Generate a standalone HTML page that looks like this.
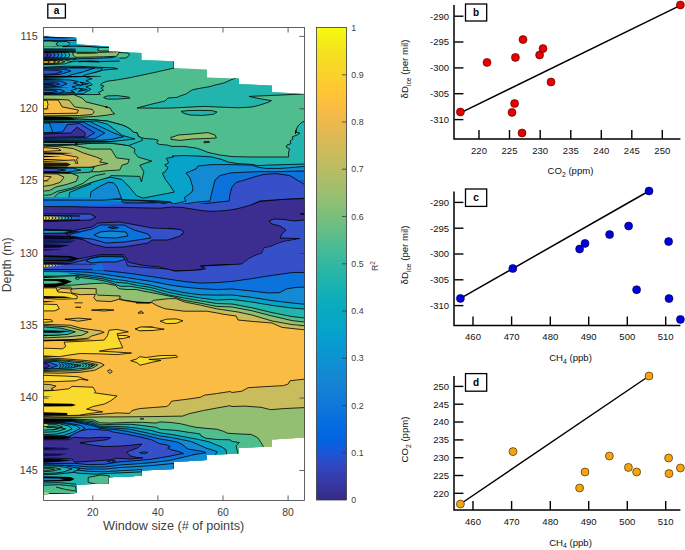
<!DOCTYPE html><html><head><meta charset="utf-8"><style>html,body{margin:0;padding:0;background:#fff}svg{display:block}text{font-family:"Liberation Sans",sans-serif}</style></head><body>
<svg width="685" height="550" viewBox="0 0 685 550">
<rect width="685" height="550" fill="#fff"/>
<defs><clipPath id="cp"><path d="M43.6 36.5 L76.5 37.8 L76.5 44.2 L108.8 46.4 L108.8 51.2 L141.5 53.0 L141.5 60.0 L174.0 61.2 L174.0 68.0 L207.0 69.4 L207.0 77.4 L239.0 78.6 L239.0 84.0 L272.0 85.6 L272.0 92.0 L304.4 94.0 L304.4 437.6 L272.0 439.4 L272.0 446.4 L239.0 448.0 L239.0 453.6 L207.0 455.0 L207.0 460.0 L174.0 462.0 L174.0 469.0 L141.6 470.5 L141.6 475.7 L109.0 477.3 L109.0 483.4 L76.6 484.5 L76.6 493.0 L43.6 494.2 Z"/></clipPath>
<linearGradient id="par" x1="0" y1="1" x2="0" y2="0"><stop offset="0.0000" stop-color="rgb(53,42,135)"/><stop offset="0.0159" stop-color="rgb(54,48,147)"/><stop offset="0.0317" stop-color="rgb(54,55,160)"/><stop offset="0.0476" stop-color="rgb(53,61,173)"/><stop offset="0.0635" stop-color="rgb(50,67,186)"/><stop offset="0.0794" stop-color="rgb(44,74,199)"/><stop offset="0.0952" stop-color="rgb(32,83,212)"/><stop offset="0.1111" stop-color="rgb(15,92,221)"/><stop offset="0.1270" stop-color="rgb(3,99,225)"/><stop offset="0.1429" stop-color="rgb(2,104,225)"/><stop offset="0.1587" stop-color="rgb(4,109,224)"/><stop offset="0.1746" stop-color="rgb(8,113,222)"/><stop offset="0.1905" stop-color="rgb(13,117,220)"/><stop offset="0.2063" stop-color="rgb(16,121,218)"/><stop offset="0.2222" stop-color="rgb(18,125,216)"/><stop offset="0.2381" stop-color="rgb(20,129,214)"/><stop offset="0.2540" stop-color="rgb(20,133,212)"/><stop offset="0.2698" stop-color="rgb(19,137,211)"/><stop offset="0.2857" stop-color="rgb(16,142,210)"/><stop offset="0.3016" stop-color="rgb(12,147,210)"/><stop offset="0.3175" stop-color="rgb(9,152,209)"/><stop offset="0.3333" stop-color="rgb(7,156,207)"/><stop offset="0.3492" stop-color="rgb(6,160,205)"/><stop offset="0.3651" stop-color="rgb(6,164,202)"/><stop offset="0.3810" stop-color="rgb(6,167,198)"/><stop offset="0.3968" stop-color="rgb(7,169,194)"/><stop offset="0.4127" stop-color="rgb(10,172,190)"/><stop offset="0.4286" stop-color="rgb(15,174,185)"/><stop offset="0.4444" stop-color="rgb(21,177,180)"/><stop offset="0.4603" stop-color="rgb(29,179,175)"/><stop offset="0.4762" stop-color="rgb(37,181,169)"/><stop offset="0.4921" stop-color="rgb(46,183,164)"/><stop offset="0.5079" stop-color="rgb(56,185,158)"/><stop offset="0.5238" stop-color="rgb(66,187,152)"/><stop offset="0.5397" stop-color="rgb(77,188,146)"/><stop offset="0.5556" stop-color="rgb(89,189,140)"/><stop offset="0.5714" stop-color="rgb(101,190,134)"/><stop offset="0.5873" stop-color="rgb(113,191,128)"/><stop offset="0.6032" stop-color="rgb(124,191,123)"/><stop offset="0.6190" stop-color="rgb(135,191,119)"/><stop offset="0.6349" stop-color="rgb(146,191,115)"/><stop offset="0.6508" stop-color="rgb(156,191,111)"/><stop offset="0.6667" stop-color="rgb(165,190,107)"/><stop offset="0.6825" stop-color="rgb(174,190,103)"/><stop offset="0.6984" stop-color="rgb(183,189,100)"/><stop offset="0.7143" stop-color="rgb(192,188,96)"/><stop offset="0.7302" stop-color="rgb(200,188,93)"/><stop offset="0.7460" stop-color="rgb(209,187,89)"/><stop offset="0.7619" stop-color="rgb(217,186,86)"/><stop offset="0.7778" stop-color="rgb(225,185,82)"/><stop offset="0.7937" stop-color="rgb(233,185,78)"/><stop offset="0.8095" stop-color="rgb(241,185,74)"/><stop offset="0.8254" stop-color="rgb(248,187,68)"/><stop offset="0.8413" stop-color="rgb(253,190,61)"/><stop offset="0.8571" stop-color="rgb(255,195,55)"/><stop offset="0.8730" stop-color="rgb(254,200,50)"/><stop offset="0.8889" stop-color="rgb(252,206,46)"/><stop offset="0.9048" stop-color="rgb(250,211,42)"/><stop offset="0.9206" stop-color="rgb(247,216,38)"/><stop offset="0.9365" stop-color="rgb(245,222,33)"/><stop offset="0.9524" stop-color="rgb(245,228,29)"/><stop offset="0.9683" stop-color="rgb(245,235,24)"/><stop offset="0.9841" stop-color="rgb(246,243,19)"/><stop offset="1.0000" stop-color="rgb(249,251,14)"/></linearGradient></defs>
<g clip-path="url(#cp)">
<path d="M40.0 30.0 L310.0 30.0 L310.0 500.0 L40.0 500.0 Z" fill="#50bd8f"/>
<path d="M235.6 78.2 L239.0 73.0 L316.0 73.0 L316.0 94.0 L304.4 94.0 L272.0 95.4 L249.0 96.4 L256.0 98.0 L264.0 99.4 L271.4 100.6 L268.0 102.4 L260.0 105.0 L252.0 107.0 L238.0 107.8 L218.0 107.0 L204.0 106.4 L184.0 107.4 L172.0 108.0 L160.0 108.2 L137.0 108.0 L152.0 104.0 L165.0 101.0 L168.0 98.0 L177.0 97.4 L180.0 96.0 L186.0 94.0 L192.0 90.0 L198.0 88.6 L210.0 86.6 L215.0 85.0 L224.0 83.0 L232.0 79.4 Z" fill="#22b5ad" stroke="#000" stroke-width="0.8" stroke-linejoin="round"/>
<path d="M181.0 111.4 L188.0 110.6 L200.0 110.4 L212.0 110.6 L217.0 112.0 L213.0 114.4 L202.0 115.4 L190.0 115.0 L184.0 113.4 Z" fill="#22b5ad" stroke="#000" stroke-width="0.8" stroke-linejoin="round"/>
<path d="M174.0 50.0 L174.0 68.0 L168.0 69.4 L152.0 73.0 L138.0 76.0 L128.0 78.0 L117.3 79.9 L107.3 81.2 L102.3 83.1 L100.4 84.9 L104.1 86.2 L101.0 88.1 L103.5 90.0 L98.5 92.5 L100.4 94.4 L92.2 94.6 L73.4 94.4 L64.6 95.0 L39.5 95.9 L38.0 30.0 Z" fill="#22b5ad" stroke="#000" stroke-width="0.8" stroke-linejoin="round"/>
<path d="M103.5 97.5 L107.3 95.9 L117.3 95.6 L128.6 97.1 L129.9 98.1 L117.3 99.1 L107.3 99.1 Z" fill="#22b5ad" stroke="#000" stroke-width="0.8" stroke-linejoin="round"/>
<path d="M42.0 36.1 L76.2 36.1 L76.2 41.0 L42.0 41.0 Z" fill="#0c73dd"/>
<path d="M67.5 38.3 L76.2 38.3 L76.2 41.0 L67.5 41.0 Z" fill="#138ad3"/>
<path d="M42.0 36.5 L72.7 36.9 L75.7 38.1 L62.4 38.3 L42.0 38.1 Z" fill="#06142e"/>
<path d="M42.0 40.8 L67.5 40.8 L76.2 40.2" fill="none" stroke="#000" stroke-width="1.0" stroke-linejoin="round"/>
<path d="M40.0 41.2 L50.2 41.0 L58.3 41.8 L56.3 43.8 L58.3 46.1 L50.2 46.9 L40.0 46.7 Z" fill="#50bd8f" stroke="#000" stroke-width="0.8" stroke-linejoin="round"/>
<path d="M58.3 41.8 L66.5 41.4 L71.1 43.8 L66.5 46.3 L58.3 46.1 L56.3 43.8 Z" fill="#22b5ad" stroke="#000" stroke-width="0.8" stroke-linejoin="round"/>
<path d="M70.1 41.7 L76.2 41.0 L76.2 46.3 L70.1 46.3 Z" fill="#08a3ca"/>
<path d="M76.2 44.1 L109.4 44.8 L109.4 47.3 L76.2 47.3 Z" fill="#08a3ca"/>
<path d="M62.4 46.3 L76.2 46.1 L88.0 46.5 L99.2 47.3 L109.4 47.5" fill="none" stroke="#000" stroke-width="1.0" stroke-linejoin="round"/>
<path d="M99.2 48.3 L109.4 48.3 L109.4 51.0 L99.2 51.0 L97.2 49.6 Z" fill="#50bd8f"/>
<path d="M99.2 48.3 L97.2 49.6 L99.2 51.0 L109.4 51.0" fill="none" stroke="#000" stroke-width="0.8" stroke-linejoin="round"/>
<path d="M42.0 46.5 L62.4 46.5 L62.4 48.3 L42.0 48.3 Z" fill="#50bd8f"/>
<path d="M42.0 48.3 L75.7 48.6 L75.7 52.4 L42.0 52.4 Z" fill="#0a3a44"/>
<path d="M42.0 48.9 L72.7 49.2 L72.7 50.2 L42.0 50.0 Z" fill="#04222c"/>
<path d="M42.0 50.8 L73.7 51.0 L73.7 52.0 L42.0 51.8 Z" fill="#04222c"/>
<path d="M42.0 52.2 L75.7 52.2 L77.3 55.0 L75.7 58.1 L42.0 58.4 Z" fill="#50bd8f" stroke="#000" stroke-width="0.8" stroke-linejoin="round"/>
<path d="M42.0 52.4 L68.1 52.4 L69.8 55.0 L68.1 57.8 L42.0 58.2 Z" fill="#22b5ad" stroke="#000" stroke-width="0.8" stroke-linejoin="round"/>
<path d="M42.0 52.4 L64.3 52.4 L66.1 55.0 L64.3 57.8 L42.0 58.2 Z" fill="#08a3ca" stroke="#000" stroke-width="0.8" stroke-linejoin="round"/>
<path d="M42.0 52.4 L60.6 52.4 L62.4 55.0 L60.6 57.8 L42.0 58.2 Z" fill="#138ad3" stroke="#000" stroke-width="0.8" stroke-linejoin="round"/>
<path d="M42.0 52.4 L56.9 52.4 L58.9 55.0 L56.9 57.8 L42.0 58.2 Z" fill="#0c73dd" stroke="#000" stroke-width="0.8" stroke-linejoin="round"/>
<path d="M42.0 52.4 L53.0 52.4 L55.1 55.0 L53.0 57.8 L42.0 58.2 Z" fill="#3550c8" stroke="#000" stroke-width="0.8" stroke-linejoin="round"/>
<path d="M42.0 52.4 L49.4 52.4 L51.2 55.0 L49.4 57.8 L42.0 58.2 Z" fill="#3c2d90" stroke="#000" stroke-width="0.8" stroke-linejoin="round"/>
<path d="M42.0 52.4 L46.1 52.4 L47.6 55.0 L46.1 57.8 L42.0 58.2 Z" fill="#3c2d90" stroke="#000" stroke-width="0.8" stroke-linejoin="round"/>
<path d="M114.0 52.2 L128.0 53.0 L129.6 55.0 L126.0 58.0 L114.0 58.2 Z" fill="#50bd8f" stroke="#000" stroke-width="0.8" stroke-linejoin="round"/>
<path d="M72.7 52.9 L75.7 52.2 L99.2 52.4 L113.5 51.9 L119.7 51.6 L118.1 54.0 L116.6 56.3 L103.3 56.8 L88.0 57.1 L75.7 57.3 L73.2 55.3 Z" fill="#92bf72" stroke="#000" stroke-width="0.8" stroke-linejoin="round"/>
<path d="M75.7 52.2 L97.7 52.0 L98.2 53.5 L87.0 54.1 L76.7 53.9 Z" fill="#3c5a2a"/>
<path d="M77.3 52.4 L96.2 52.3 L96.7 53.2 L77.8 53.4 Z" fill="#14260f"/>
<path d="M42.0 58.2 L75.7 58.0 L77.8 58.8 L75.7 59.8 L42.0 60.6 Z" fill="#0b2d3a"/>
<path d="M40.0 60.0 L64.5 59.8 L71.6 61.6 L64.5 63.9 L40.0 64.7 Z" fill="#50bd8f" stroke="#000" stroke-width="0.8" stroke-linejoin="round"/>
<path d="M40.0 60.3 L59.4 60.2 L65.0 61.7 L59.4 63.6 L40.0 64.3 Z" fill="#92bf72" stroke="#000" stroke-width="0.8" stroke-linejoin="round"/>
<path d="M40.0 60.5 L55.8 60.5 L59.9 61.8 L55.8 63.4 L40.0 64.0 Z" fill="#c9bc5c" stroke="#000" stroke-width="0.8" stroke-linejoin="round"/>
<path d="M40.0 60.7 L52.7 60.7 L55.8 61.9 L52.7 63.2 L40.0 63.7 Z" fill="#fabc42" stroke="#000" stroke-width="0.8" stroke-linejoin="round"/>
<path d="M40.0 60.9 L47.6 60.9 L49.7 62.0 L47.6 63.0 L40.0 63.4 Z" fill="#fada2c" stroke="#000" stroke-width="0.8" stroke-linejoin="round"/>
<path d="M77.8 58.2 L113.5 57.5 L119.7 57.5 L119.7 61.1 L93.1 61.8 L77.8 61.1 L72.7 60.1 Z" fill="#08a3ca"/>
<path d="M72.7 60.1 L77.8 58.8 L93.1 58.4 L113.5 57.5" fill="none" stroke="#000" stroke-width="0.8" stroke-linejoin="round"/>
<path d="M70.6 61.8 L77.8 61.3 L93.1 61.9 L119.7 61.1" fill="none" stroke="#000" stroke-width="0.8" stroke-linejoin="round"/>
<path d="M78.3 61.6 L90.0 61.2 L99.2 61.6" fill="none" stroke="#000" stroke-width="1.2" stroke-linejoin="round"/>
<path d="M42.0 67.3 L67.5 66.2 L84.9 66.5 L99.2 67.3 L113.5 67.8 L117.6 68.8 L103.3 70.0 L99.2 71.3 L93.1 72.9 L82.9 73.9 L65.5 77.0 L42.0 77.5 Z" fill="#08a3ca" stroke="#000" stroke-width="0.8" stroke-linejoin="round"/>
<path d="M42.0 68.8 L65.5 68.3 L84.9 68.0 L93.1 69.3 L92.1 71.3 L84.9 72.4 L75.7 73.9 L65.5 76.5 L42.0 77.0 Z" fill="#138ad3" stroke="#000" stroke-width="0.8" stroke-linejoin="round"/>
<path d="M42.0 71.0 L62.4 70.8 L67.0 71.6 L62.4 73.4 L57.3 75.7 L42.0 76.1 Z" fill="#0c73dd" stroke="#000" stroke-width="0.8" stroke-linejoin="round"/>
<path d="M69.6 68.3 L74.7 67.3 L81.3 68.3 L75.7 69.4 Z" fill="#3550c8" stroke="#000" stroke-width="0.8" stroke-linejoin="round"/>
<path d="M42.0 76.1 L72.7 75.7 L100.8 76.1 L72.7 77.0 L42.0 77.6 Z" fill="#0a1a40"/>
<path d="M316.0 120.6 L304.4 121.0 L301.0 123.0 L298.0 126.0 L296.4 129.0 L295.4 134.0 L296.0 130.0 L296.0 132.4 L300.0 133.0 L297.0 135.0 L292.0 137.0 L293.0 139.0 L290.0 141.0 L291.0 143.6 L287.0 145.0 L286.0 147.0 L289.6 149.0 L288.6 152.0 L288.6 157.0 L272.0 157.0 L252.0 157.0 L232.0 156.6 L220.0 155.0 L208.0 152.4 L202.0 150.0 L196.0 148.0 L184.0 146.4 L172.0 146.4 L167.1 145.1 L159.1 144.3 L156.6 142.7 L158.3 140.3 L154.2 139.1 L146.2 138.7 L141.4 137.8 L138.2 136.2 L137.4 133.0 L133.4 132.2 L130.1 129.0 L126.1 126.6 L122.1 125.0 L107.3 121.0 L92.2 119.7 L79.7 119.1 L67.1 119.7 L39.5 120.3 L38.0 260.0 L310.0 260.0 Z" fill="#22b5ad" stroke="#000" stroke-width="0.8" stroke-linejoin="round"/>
<path d="M316.0 164.0 L304.4 164.0 L292.0 164.4 L278.0 164.8 L266.0 165.2 L258.0 165.6 L252.0 164.4 L238.0 163.6 L228.0 162.0 L222.0 159.6 L212.0 157.0 L198.0 156.0 L184.0 155.6 L172.0 156.0 L173.5 156.8 L166.3 158.4 L168.7 162.7 L164.7 165.1 L167.9 167.6 L165.5 171.6 L162.3 173.2 L165.5 179.6 L170.3 186.0 L174.3 192.1 L162.3 194.4 L143.0 198.1 L136.6 195.7 L128.5 186.0 L122.1 179.6 L110.9 177.2 L99.6 178.8 L90.0 182.8 L91.0 183.9 L76.7 189.5 L69.6 192.4 L68.8 198.7 L60.0 260.0 L310.0 260.0 Z" fill="#08a3ca" stroke="#000" stroke-width="0.8" stroke-linejoin="round"/>
<path d="M316.0 166.4 L304.4 166.4 L296.0 167.2 L280.0 168.4 L266.0 168.4 L258.0 167.2 L252.0 165.2 L232.0 164.6 L212.0 164.6 L198.0 166.0 L196.0 169.0 L186.0 173.0 L190.0 178.0 L193.0 188.0 L192.0 192.0 L184.0 198.0 L186.0 201.0 L178.0 203.0 L172.0 204.0 L170.3 201.8 L157.4 200.8 L138.2 200.2 L122.1 200.2 L110.0 260.0 L310.0 260.0 Z" fill="#138ad3" stroke="#000" stroke-width="0.8" stroke-linejoin="round"/>
<path d="M90.0 198.7 L91.0 191.8 L99.2 186.7 L108.4 182.2 L113.5 182.9 L117.1 187.0 L121.7 198.7 Z" fill="#138ad3" stroke="#000" stroke-width="0.8" stroke-linejoin="round"/>
<path d="M316.0 171.0 L304.4 171.0 L292.0 171.2 L276.0 171.8 L260.0 171.6 L248.0 172.0 L230.0 173.0 L220.0 175.6 L215.0 180.0 L213.0 188.0 L211.0 196.0 L210.0 201.0 L198.0 202.0 L184.0 204.0 L172.0 204.8 L157.4 202.4 L122.1 202.1 L90.0 201.8 L60.0 260.0 L310.0 260.0 Z" fill="#0c73dd" stroke="#000" stroke-width="0.8" stroke-linejoin="round"/>
<path d="M316.0 184.0 L304.4 184.4 L297.0 180.0 L290.0 175.6 L276.0 173.6 L264.0 174.4 L256.0 176.4 L246.0 179.6 L236.0 182.4 L232.0 187.0 L230.0 194.0 L229.0 201.0 L210.0 203.0 L192.0 205.2 L172.0 206.0 L154.2 204.0 L122.1 204.0 L90.0 203.7 L60.0 262.0 L310.0 262.0 Z" fill="#3550c8" stroke="#000" stroke-width="0.8" stroke-linejoin="round"/>
<path d="M316.0 198.0 L304.4 198.4 L284.0 199.4 L270.0 200.4 L260.0 201.0 L252.0 204.4 L238.0 208.0 L226.0 210.0 L212.0 211.0 L202.0 210.0 L192.0 208.4 L182.0 207.0 L172.0 207.2 L157.4 207.2 L138.2 207.7 L122.1 207.2 L106.1 207.9 L90.0 207.2 L60.0 300.0 L310.0 300.0 Z" fill="#3c2d90" stroke="#000" stroke-width="0.8" stroke-linejoin="round"/>
<path d="M268.8 199.8 L271.2 199.8 L271.2 201.0 L268.8 201.0 Z" fill="#000"/>
<path d="M39.5 144.8 L73.4 144.4 L90.0 143.4 L106.1 143.0 L117.3 143.9 L128.5 145.6 L135.0 149.1 L134.2 152.3 L138.2 157.1 L151.8 161.1 L139.8 165.1 L143.8 171.6 L141.4 182.0 L139.8 176.4 L130.1 176.1 L110.9 175.6 L109.6 177.1 L92.2 182.2 L77.6 187.5 L58.3 193.2 L52.7 198.7 L40.0 199.2 Z" fill="#50bd8f" stroke="#000" stroke-width="0.8" stroke-linejoin="round"/>
<path d="M40.0 195.7 L50.7 194.8 L57.3 191.4 L71.6 188.0 L82.9 183.4 L89.5 178.3 L95.1 175.7 L105.4 173.7" fill="none" stroke="#000" stroke-width="0.8" stroke-linejoin="round"/>
<path d="M39.5 145.2 L57.1 145.7 L73.4 145.1 L85.9 148.0 L90.0 149.1 L110.9 149.1 L116.5 157.9 L129.3 159.5 L127.7 163.5 L122.1 165.1 L119.7 170.0 L106.1 170.8 L98.5 171.8 L79.7 171.4 L67.1 170.1 L39.5 169.5 Z" fill="#92bf72" stroke="#000" stroke-width="0.8" stroke-linejoin="round"/>
<path d="M39.5 146.1 L57.1 146.5 L73.4 148.6 L83.4 153.0 L96.4 157.1 L102.0 159.5 L99.6 162.0 L107.7 163.5 L99.6 165.2 L90.0 167.5 L73.4 168.3 L39.5 168.7 Z" fill="#c9bc5c" stroke="#000" stroke-width="0.8" stroke-linejoin="round"/>
<path d="M39.5 154.0 L60.8 154.2 L77.2 157.0 L78.4 158.0 L76.5 159.3 L77.8 163.3 L75.6 163.3 L74.9 159.9 L39.5 161.8 Z" fill="#fabc42" stroke="#000" stroke-width="0.8" stroke-linejoin="round"/>
<path d="M39.5 147.3 L58.3 148.6 L60.8 150.5 L39.5 151.7 Z" fill="#fabc42" stroke="#000" stroke-width="0.8" stroke-linejoin="round"/>
<path d="M39.5 152.2 L73.4 153.0 L60.8 154.0 L39.5 154.0 Z" fill="#000"/>
<path d="M39.5 155.7 L62.1 156.5 L39.5 157.5 Z" fill="#000"/>
<path d="M39.5 159.0 L67.1 159.5 L39.5 160.3 Z" fill="#000"/>
<path d="M39.5 162.4 L67.1 162.8 L70.9 164.5 L67.1 166.5 L39.5 167.0 Z" fill="#201a05"/>
<path d="M40.0 167.5 L94.1 167.2 L93.1 169.6 L90.0 172.2 L71.6 173.4 L40.0 173.2 Z" fill="#22b5ad" stroke="#000" stroke-width="0.8" stroke-linejoin="round"/>
<path d="M40.0 167.9 L72.7 168.1 L80.8 170.1 L67.5 172.4 L40.0 172.8 Z" fill="#138ad3" stroke="#000" stroke-width="0.8" stroke-linejoin="round"/>
<path d="M40.0 168.3 L57.3 168.7 L65.5 170.1 L54.3 171.7 L40.0 172.2 Z" fill="#3550c8" stroke="#000" stroke-width="0.8" stroke-linejoin="round"/>
<path d="M40.0 167.2 L67.5 167.5 L67.5 168.3 L40.0 168.1 Z" fill="#000"/>
<path d="M40.0 171.1 L72.7 171.9 L67.5 173.2 L40.0 173.4 Z" fill="#000"/>
<path d="M40.0 173.0 L71.6 173.4 L78.3 176.2 L76.2 181.3 L67.5 184.2 L55.8 187.0 L49.7 190.5 L40.0 191.4 Z" fill="#92bf72" stroke="#000" stroke-width="0.8" stroke-linejoin="round"/>
<path d="M40.0 173.7 L57.3 174.0 L64.0 177.1 L60.4 182.2 L52.2 184.9 L40.0 187.0 Z" fill="#c9bc5c" stroke="#000" stroke-width="0.8" stroke-linejoin="round"/>
<path d="M40.0 175.7 L51.2 176.8 L47.1 180.3 L40.0 181.3 Z" fill="#fabc42" stroke="#000" stroke-width="0.8" stroke-linejoin="round"/>
<path d="M39.5 68.0 L102.3 68.0 L101.0 70.5 L92.2 73.0 L83.4 75.5 L87.2 77.4 L92.2 78.7 L85.9 80.6 L89.7 82.4 L92.2 84.9 L85.9 86.8 L91.0 89.3 L85.9 91.9 L83.4 93.7 L39.5 94.4 Z" fill="#08a3ca" stroke="#000" stroke-width="0.8" stroke-linejoin="round"/>
<path d="M39.5 68.0 L94.7 68.0 L83.4 71.8 L70.9 74.9 L67.1 76.8 L39.5 77.0 Z" fill="#138ad3" stroke="#000" stroke-width="0.8" stroke-linejoin="round"/>
<path d="M39.5 79.3 L69.6 79.9 L78.4 81.6 L73.4 83.1 L79.7 84.9 L72.1 86.8 L77.2 88.7 L70.9 90.6 L74.6 92.5 L39.5 93.7 Z" fill="#138ad3" stroke="#000" stroke-width="0.8" stroke-linejoin="round"/>
<path d="M79.7 82.1 L88.5 83.7 L79.7 85.6 L83.4 83.8 Z" fill="#138ad3" stroke="#000" stroke-width="0.8" stroke-linejoin="round"/>
<path d="M78.4 88.1 L87.2 89.6 L78.4 91.4 L82.2 89.6 Z" fill="#138ad3" stroke="#000" stroke-width="0.8" stroke-linejoin="round"/>
<path d="M39.5 68.6 L65.9 69.3 L70.9 71.1 L60.8 74.3 L39.5 75.5 Z" fill="#0c73dd" stroke="#000" stroke-width="0.8" stroke-linejoin="round"/>
<path d="M39.5 80.6 L60.8 81.1 L67.1 83.7 L60.8 86.3 L39.5 87.1 Z" fill="#0c73dd" stroke="#000" stroke-width="0.8" stroke-linejoin="round"/>
<path d="M39.5 89.1 L60.8 89.5 L64.6 91.2 L59.6 93.1 L39.5 93.6 Z" fill="#0c73dd" stroke="#000" stroke-width="0.8" stroke-linejoin="round"/>
<path d="M39.5 69.9 L57.1 70.3 L62.1 71.8 L54.6 74.0 L39.5 74.5 Z" fill="#3550c8" stroke="#000" stroke-width="0.8" stroke-linejoin="round"/>
<path d="M39.5 81.8 L54.6 82.2 L59.6 83.9 L54.6 85.6 L39.5 86.1 Z" fill="#3550c8" stroke="#000" stroke-width="0.8" stroke-linejoin="round"/>
<path d="M39.5 90.1 L53.3 90.3 L57.1 91.4 L52.0 92.5 L39.5 92.7 Z" fill="#3550c8" stroke="#000" stroke-width="0.8" stroke-linejoin="round"/>
<path d="M39.5 75.8 L101.0 76.3 L101.0 76.8 L39.5 77.8 Z" fill="#000"/>
<path d="M39.5 78.3 L64.6 78.8 L39.5 79.8 Z" fill="#000"/>
<path d="M39.5 82.8 L53.3 83.2 L55.8 84.1 L53.3 84.8 L39.5 85.3 Z" fill="#04102a"/>
<path d="M39.5 87.1 L69.6 87.7 L39.5 88.6 Z" fill="#000"/>
<path d="M39.5 93.6 L60.8 94.0 L39.5 94.9 Z" fill="#000"/>
<path d="M39.5 94.9 L64.6 95.0 L73.4 94.6 L82.2 98.1 L85.9 101.9 L96.0 104.4 L106.0 106.9 L110.4 108.2 L111.7 111.3 L114.8 113.8 L107.3 115.1 L97.2 116.3 L79.7 117.2 L39.5 117.6 Z" fill="#92bf72" stroke="#000" stroke-width="0.8" stroke-linejoin="round"/>
<path d="M39.5 99.1 L58.3 99.4 L69.0 100.0 L74.6 106.9 L92.2 109.4 L94.1 111.9 L92.2 114.5 L79.7 115.5 L39.5 116.0 Z" fill="#c9bc5c" stroke="#000" stroke-width="0.8" stroke-linejoin="round"/>
<path d="M39.5 99.8 L47.6 100.0 L58.3 100.0 L62.1 106.9 L78.4 110.1 L77.2 113.2 L39.5 113.7 Z" fill="#fabc42" stroke="#000" stroke-width="0.8" stroke-linejoin="round"/>
<path d="M39.5 100.1 L47.0 100.4 L48.0 104.4 L47.0 108.8 L39.5 109.2 Z" fill="#fada2c" stroke="#000" stroke-width="0.8" stroke-linejoin="round"/>
<path d="M105.4 106.3 L107.3 106.3 L107.3 107.9 L105.4 107.9 Z" fill="#000"/>
<path d="M39.5 116.2 L67.1 116.8 L74.6 118.2 L67.1 119.6 L39.5 120.2 Z" fill="#000"/>
<path d="M39.5 120.5 L64.6 121.0 L79.7 121.5 L64.6 122.0 L39.5 122.2 Z" fill="#08262e"/>
<path d="M39.5 120.1 L67.1 119.7 L79.7 119.1 L92.2 119.7 L107.3 121.0 L122.1 125.0 L126.1 126.6 L130.1 129.0 L133.4 132.1 L137.4 133.0 L138.2 136.2 L141.4 137.8 L142.4 140.4 L128.5 145.6 L117.3 143.9 L106.0 142.9 L90.0 143.4 L73.4 144.4 L39.5 144.8 Z" fill="#22b5ad" stroke="#000" stroke-width="0.8" stroke-linejoin="round"/>
<path d="M39.5 121.1 L96.0 121.1 L107.3 124.1 L122.4 135.4 L134.9 138.9 L122.4 140.4 L112.3 141.4 L39.5 141.9 Z" fill="#08a3ca" stroke="#000" stroke-width="0.8" stroke-linejoin="round"/>
<path d="M39.5 121.8 L89.7 121.6 L113.6 132.9 L123.6 136.7 L112.3 139.2 L102.3 140.2 L39.5 140.7 Z" fill="#138ad3" stroke="#000" stroke-width="0.8" stroke-linejoin="round"/>
<path d="M39.5 122.9 L83.4 122.2 L104.8 132.9 L94.7 138.9 L39.5 139.4 Z" fill="#0c73dd" stroke="#000" stroke-width="0.8" stroke-linejoin="round"/>
<path d="M39.5 123.1 L49.5 123.1 L52.7 132.3 L39.5 132.9 Z" fill="#138ad3" stroke="#000" stroke-width="0.8" stroke-linejoin="round"/>
<path d="M39.5 133.5 L62.7 131.9 L67.1 124.7 L79.7 123.5 L94.7 132.9 L85.9 137.7 L39.5 138.4 Z" fill="#3550c8" stroke="#000" stroke-width="0.8" stroke-linejoin="round"/>
<path d="M39.5 134.2 L70.9 132.9 L77.2 127.2 L85.3 132.9 L84.7 136.7 L39.5 137.4 Z" fill="#3c2d90" stroke="#000" stroke-width="0.8" stroke-linejoin="round"/>
<path d="M39.5 117.8 L67.1 118.1 L79.7 118.8 L67.1 119.8 L39.5 120.3 Z" fill="#000"/>
<path d="M39.5 140.9 L73.4 141.7 L112.3 141.2 L117.3 141.9 L73.4 142.9 L39.5 142.7 Z" fill="#000"/>
<path d="M74.9 143.3 L77.8 143.3 L77.8 144.4 L74.9 144.4 Z" fill="#000"/>
<path d="M171.0 137.2 L173.0 137.0 L178.0 135.0 L192.0 134.0 L208.0 132.6 L215.0 135.0 L216.4 138.0 L209.0 138.4 L192.0 139.0 L180.0 140.4 L173.0 139.6 L171.0 139.4 Z" fill="#92bf72" stroke="#000" stroke-width="0.8" stroke-linejoin="round"/>
<path d="M204.0 141.6 L209.0 141.4 L209.6 142.4 L204.0 142.8 Z" fill="#92bf72" stroke="#000" stroke-width="0.8" stroke-linejoin="round"/>
<path d="M38.0 204.0 L310.0 204.0 L310.0 275.0 L38.0 275.0 Z" fill="#3550c8"/>
<path d="M36.0 197.0 L100.0 197.4 L120.0 199.0 L100.0 201.0 L36.0 201.0 Z" fill="#138ad3"/>
<path d="M36.0 200.0 L64.0 200.6 L120.0 201.0 L124.0 204.0 L100.0 205.4 L36.0 206.0 Z" fill="#0c73dd"/>
<path d="M36.0 199.4 L100.0 199.8 L100.0 200.6 L36.0 200.6 Z" fill="#000"/>
<path d="M100.0 200.2 L120.0 199.4 L140.0 200.6 L160.0 202.2 L172.0 202.6" fill="none" stroke="#000" stroke-width="0.8" stroke-linejoin="round"/>
<path d="M316.0 198.2 L304.4 198.6 L284.0 199.4 L270.0 200.6 L260.0 201.4 L252.0 204.6 L238.0 208.6 L226.0 210.6 L212.0 211.4 L202.0 210.6 L192.0 209.0 L182.0 207.4 L172.0 207.0 L160.0 208.2 L140.0 207.8 L120.0 207.4 L100.0 207.4 L90.0 207.2 L70.0 206.6 L36.0 206.6 L36.0 263.0 L70.0 262.0 L78.0 259.0 L90.0 256.6 L100.0 254.6 L123.0 254.6 L126.0 257.0 L128.0 262.0 L136.0 264.0 L144.0 265.4 L160.0 267.0 L172.0 271.0 L192.0 270.6 L206.0 269.0 L202.0 266.0 L222.0 265.0 L242.0 264.0 L248.0 259.0 L254.0 256.0 L262.0 253.0 L264.0 248.0 L272.0 246.0 L276.0 244.0 L284.0 241.4 L292.0 240.0 L300.0 238.6 L280.0 238.0 L282.0 234.0 L286.0 230.0 L280.0 226.0 L272.0 224.0 L269.0 221.0 L274.0 219.0 L284.0 219.4 L294.0 221.0 L304.4 220.0 L316.0 219.8 Z" fill="#3c2d90" stroke="#000" stroke-width="0.8" stroke-linejoin="round"/>
<path d="M300.0 213.8 L304.4 213.4 L316.0 213.4 L316.0 215.0 L304.4 214.8 Z" fill="#3c2d90" stroke="#000" stroke-width="0.8" stroke-linejoin="round"/>
<path d="M168.0 228.2 L172.0 228.6 L176.0 229.4 L178.0 232.6 L183.0 234.0 L178.0 235.0 L172.0 235.6 L168.0 236.0 Z" fill="#3550c8" stroke="#000" stroke-width="0.8" stroke-linejoin="round"/>
<path d="M66.0 234.0 L76.0 230.0 L92.0 227.0 L98.0 223.0 L120.0 222.0 L136.0 225.0 L152.0 228.0 L168.0 228.6 L180.0 229.4 L184.0 232.0 L180.0 236.0 L168.0 240.0 L152.0 240.0 L148.0 243.0 L124.0 247.0 L106.0 247.4 L92.0 244.0 L84.0 240.0 L74.0 238.0 Z" fill="#3550c8" stroke="#000" stroke-width="0.8" stroke-linejoin="round"/>
<path d="M70.0 234.4 L92.0 229.0 L100.0 225.0 L124.0 225.0 L134.0 230.0 L148.0 234.0 L151.0 238.0 L124.0 242.0 L106.0 243.0 L92.0 239.0 L70.0 237.0 Z" fill="#0c73dd" stroke="#000" stroke-width="0.8" stroke-linejoin="round"/>
<path d="M94.0 235.0 L100.0 232.0 L110.0 231.0 L126.0 232.0 L128.0 236.0 L116.0 238.0 L100.0 237.4 Z" fill="#138ad3" stroke="#000" stroke-width="0.8" stroke-linejoin="round"/>
<path d="M108.0 227.4 L113.0 226.6 L118.4 227.6 L113.0 228.6 Z" fill="#3c2d90" stroke="#000" stroke-width="0.8" stroke-linejoin="round"/>
<path d="M36.0 228.6 L70.0 229.4 L80.0 231.4 L70.0 233.4 L36.0 234.2 Z" fill="#081430"/>
<path d="M36.0 230.2 L64.0 230.6 L72.0 231.8 L64.0 233.0 L36.0 233.4 Z" fill="#08a3ca" stroke="#000" stroke-width="0.8" stroke-linejoin="round"/>
<path d="M36.0 235.0 L74.0 236.0 L84.0 238.0 L70.0 239.4 L36.0 239.4 Z" fill="#07072a"/>
<path d="M36.0 239.8 L76.0 240.6 L70.0 243.0 L36.0 243.8 Z" fill="#0c1c50"/>
<path d="M36.0 244.2 L70.0 245.0 L60.0 247.4 L36.0 248.2 Z" fill="#07072a"/>
<path d="M36.0 249.0 L64.0 249.6 L36.0 251.0 Z" fill="#0a0a30"/>
<path d="M36.0 214.0 L90.0 214.0 L96.0 217.0 L90.0 220.0 L36.0 222.0 Z" fill="#3550c8" stroke="#000" stroke-width="0.8" stroke-linejoin="round"/>
<path d="M36.0 215.0 L80.0 215.6 L80.0 216.4 L36.0 216.2 Z" fill="#000"/>
<path d="M36.0 219.8 L80.0 219.4 L80.0 220.4 L36.0 221.0 Z" fill="#000"/>
<path d="M36.0 216.6 L52.0 216.6 L52.0 219.4 L36.0 219.4 Z" fill="#fada2c"/>
<path d="M52.0 216.6 L59.0 216.8 L59.0 219.2 L52.0 219.4 Z" fill="#c9bc5c"/>
<path d="M59.0 216.8 L66.0 217.0 L66.0 219.0 L59.0 219.2 Z" fill="#50bd8f"/>
<path d="M66.0 217.0 L74.0 217.4 L74.0 218.6 L66.0 219.0 Z" fill="#08a3ca"/>
<path d="M45.0 216.6 L46.6 218.0 L45.0 219.4" fill="none" stroke="#000" stroke-width="0.8" stroke-linejoin="round"/>
<path d="M48.2 216.6 L49.8 218.0 L48.2 219.4" fill="none" stroke="#000" stroke-width="0.8" stroke-linejoin="round"/>
<path d="M51.4 216.6 L53.0 218.0 L51.4 219.4" fill="none" stroke="#000" stroke-width="0.8" stroke-linejoin="round"/>
<path d="M54.6 216.6 L56.2 218.0 L54.6 219.4" fill="none" stroke="#000" stroke-width="0.8" stroke-linejoin="round"/>
<path d="M57.8 216.6 L59.4 218.0 L57.8 219.4" fill="none" stroke="#000" stroke-width="0.8" stroke-linejoin="round"/>
<path d="M61.0 216.6 L62.6 218.0 L61.0 219.4" fill="none" stroke="#000" stroke-width="0.8" stroke-linejoin="round"/>
<path d="M64.2 216.6 L65.8 218.0 L64.2 219.4" fill="none" stroke="#000" stroke-width="0.8" stroke-linejoin="round"/>
<path d="M67.4 216.6 L69.0 218.0 L67.4 219.4" fill="none" stroke="#000" stroke-width="0.8" stroke-linejoin="round"/>
<path d="M70.6 216.6 L72.2 218.0 L70.6 219.4" fill="none" stroke="#000" stroke-width="0.8" stroke-linejoin="round"/>
<path d="M86.0 261.0 L91.0 258.0 L100.0 256.0 L123.0 256.0 L125.0 259.4 L116.0 262.0 L100.0 262.0 L92.0 263.0 Z" fill="#0c73dd" stroke="#000" stroke-width="0.8" stroke-linejoin="round"/>
<path d="M36.0 255.0 L70.0 256.0 L80.0 258.6 L70.0 261.0 L36.0 261.4 Z" fill="#000"/>
<path d="M36.0 257.0 L68.0 257.4 L72.0 258.6 L68.0 259.8 L36.0 260.2 Z" fill="#102a70"/>
<path d="M36.0 263.4 L96.0 264.0 L96.0 264.8 L36.0 264.6 Z" fill="#000"/>
<path d="M36.0 267.0 L96.0 266.6 L96.0 267.6 L36.0 268.2 Z" fill="#000"/>
<path d="M36.0 264.8 L54.0 264.8 L54.0 267.0 L36.0 267.0 Z" fill="#fada2c"/>
<path d="M54.0 264.8 L66.0 265.0 L66.0 266.8 L54.0 267.0 Z" fill="#c9bc5c"/>
<path d="M66.0 265.0 L78.0 265.2 L78.0 266.6 L66.0 266.8 Z" fill="#50bd8f"/>
<path d="M78.0 265.2 L94.0 265.4 L94.0 266.4 L78.0 266.6 Z" fill="#138ad3"/>
<path d="M45.0 264.8 L46.4 265.8 L45.0 267.0" fill="none" stroke="#000" stroke-width="0.7" stroke-linejoin="round"/>
<path d="M48.2 264.8 L49.6 265.8 L48.2 267.0" fill="none" stroke="#000" stroke-width="0.7" stroke-linejoin="round"/>
<path d="M51.4 264.8 L52.8 265.8 L51.4 267.0" fill="none" stroke="#000" stroke-width="0.7" stroke-linejoin="round"/>
<path d="M54.6 264.8 L56.0 265.8 L54.6 267.0" fill="none" stroke="#000" stroke-width="0.7" stroke-linejoin="round"/>
<path d="M57.8 264.8 L59.2 265.8 L57.8 267.0" fill="none" stroke="#000" stroke-width="0.7" stroke-linejoin="round"/>
<path d="M61.0 264.8 L62.4 265.8 L61.0 267.0" fill="none" stroke="#000" stroke-width="0.7" stroke-linejoin="round"/>
<path d="M64.2 264.8 L65.6 265.8 L64.2 267.0" fill="none" stroke="#000" stroke-width="0.7" stroke-linejoin="round"/>
<path d="M67.4 264.8 L68.8 265.8 L67.4 267.0" fill="none" stroke="#000" stroke-width="0.7" stroke-linejoin="round"/>
<path d="M70.6 264.8 L72.0 265.8 L70.6 267.0" fill="none" stroke="#000" stroke-width="0.7" stroke-linejoin="round"/>
<path d="M73.8 264.8 L75.2 265.8 L73.8 267.0" fill="none" stroke="#000" stroke-width="0.7" stroke-linejoin="round"/>
<path d="M77.0 264.8 L78.4 265.8 L77.0 267.0" fill="none" stroke="#000" stroke-width="0.7" stroke-linejoin="round"/>
<path d="M80.2 264.8 L81.6 265.8 L80.2 267.0" fill="none" stroke="#000" stroke-width="0.7" stroke-linejoin="round"/>
<path d="M83.4 264.8 L84.8 265.8 L83.4 267.0" fill="none" stroke="#000" stroke-width="0.7" stroke-linejoin="round"/>
<path d="M86.6 264.8 L88.0 265.8 L86.6 267.0" fill="none" stroke="#000" stroke-width="0.7" stroke-linejoin="round"/>
<path d="M36.0 268.0 L70.5 264.6 L88.2 264.6 L127.5 266.2 L136.4 266.9 L150.0 268.2 L152.1 268.2 L168.2 269.5 L174.6 271.4 L184.2 271.1 L200.3 270.1 L216.4 267.8 L230.0 267.0 L242.0 264.4 L248.0 259.4 L254.0 256.4 L262.0 253.4 L264.0 248.4 L272.0 246.4 L276.0 244.4 L284.0 241.8 L292.0 240.4 L300.0 239.0 L316.0 238.6 L312.0 425.0 L36.0 425.0 Z" fill="#3550c8"/>
<path d="M36.8 263.8 L70.5 263.4 L78.5 261.4 L89.8 258.5 L101.0 256.6 L123.5 256.9 L125.9 261.4 L127.5 265.9 L136.4 266.6 L150.0 267.8 L152.1 267.8 L168.2 269.1 L174.6 271.1 L184.2 270.7 L200.3 269.8 L203.5 268.7 L200.3 265.9 L216.4 265.0 L230.0 264.3" fill="none" stroke="#000" stroke-width="0.8" stroke-linejoin="round"/>
<path d="M36.8 269.5 L80.1 269.5 L93.0 269.8 L104.2 270.7 L120.3 272.3 L136.4 274.3 L150.0 276.4 L152.1 276.7 L168.2 279.1 L184.2 281.5 L200.3 283.1 L216.4 282.6 L232.0 281.4 L252.0 278.6 L272.0 275.4 L292.0 272.6 L304.4 272.4 L316.0 272.2 L312.0 425.0 L36.0 425.0 Z" fill="#0c73dd" stroke="#000" stroke-width="0.8" stroke-linejoin="round"/>
<path d="M91.4 264.6 L102.6 264.6 L104.2 270.7 L93.0 270.3 Z" fill="#0c73dd"/>
<path d="M36.8 271.1 L72.1 271.4 L88.2 272.3 L104.2 274.3 L120.3 276.7 L136.4 279.1 L150.0 281.2 L152.1 281.5 L168.2 284.7 L184.2 287.1 L200.3 288.7 L216.4 289.5 L232.0 289.0 L252.0 291.0 L268.0 293.0 L280.0 292.6 L286.0 289.0 L296.0 287.4 L304.4 287.2 L316.0 287.0 L312.0 425.0 L36.0 425.0 Z" fill="#138ad3" stroke="#000" stroke-width="0.8" stroke-linejoin="round"/>
<path d="M36.8 272.7 L72.1 273.5 L88.2 275.1 L101.0 276.7 L112.3 279.1 L123.5 280.4 L136.4 282.6 L150.0 285.0 L152.1 285.5 L168.2 289.5 L184.2 292.7 L200.3 294.8 L216.4 295.1 L232.0 295.0 L252.0 297.4 L272.0 300.6 L292.0 303.0 L304.4 304.2 L316.0 305.0 L312.0 425.0 L36.0 425.0 Z" fill="#08a3ca" stroke="#000" stroke-width="0.8" stroke-linejoin="round"/>
<path d="M36.8 274.3 L72.1 275.1 L88.2 276.7 L104.2 279.1 L115.5 282.3 L126.7 283.1 L136.4 285.2 L150.0 287.4 L152.1 287.9 L168.2 292.3 L184.2 295.5 L200.3 298.0 L216.4 300.0 L232.0 299.4 L252.0 302.0 L272.0 305.4 L292.0 308.0 L304.4 309.0 L316.0 309.8 L312.0 425.0 L36.0 425.0 Z" fill="#22b5ad" stroke="#000" stroke-width="0.8" stroke-linejoin="round"/>
<path d="M36.8 275.9 L75.3 275.9 L80.1 277.5 L94.6 279.1 L107.4 281.5 L113.9 283.9 L120.3 286.3 L129.9 286.3 L139.6 287.9 L150.0 289.8 L152.1 290.3 L168.2 294.8 L184.2 298.0 L200.3 300.8 L216.4 303.5 L232.0 304.0 L252.0 307.8 L272.0 312.6 L292.0 316.6 L304.4 318.0 L316.0 319.0 L312.0 425.0 L36.0 425.0 Z" fill="#50bd8f" stroke="#000" stroke-width="0.8" stroke-linejoin="round"/>
<path d="M75.0 278.3 L77.3 277.2 L79.5 278.4 L77.3 279.6 Z" fill="#50bd8f" stroke="#000" stroke-width="0.8" stroke-linejoin="round"/>
<path d="M36.8 285.5 L72.1 285.2 L93.0 283.6 L104.2 283.1 L115.5 285.5 L118.7 288.7 L126.7 289.5 L136.4 289.5 L142.8 291.1 L150.0 292.3 L160.1 294.3 L174.6 297.1 L184.2 300.3 L200.3 303.2 L216.4 306.4 L232.0 307.0 L252.0 310.8 L272.0 316.0 L292.0 320.6 L304.4 322.0 L316.0 323.0 L312.0 425.0 L36.0 425.0 Z" fill="#92bf72" stroke="#000" stroke-width="0.8" stroke-linejoin="round"/>
<path d="M36.8 287.1 L70.5 287.1 L72.1 289.0 L80.1 288.4 L96.2 288.7 L96.2 293.5 L97.8 295.1 L120.3 296.0 L119.5 298.4 L123.5 300.0 L136.4 301.9 L150.0 302.9 L153.7 300.3 L168.2 298.7 L176.2 298.7 L184.2 301.9 L200.3 305.1 L216.4 308.8 L238.0 312.0 L252.0 315.0 L272.0 321.0 L292.0 324.6 L304.4 325.6 L316.0 326.6 L312.0 425.0 L36.0 425.0 Z" fill="#c9bc5c" stroke="#000" stroke-width="0.8" stroke-linejoin="round"/>
<path d="M36.8 287.4 L56.9 291.1 L60.9 288.4 L72.1 289.0 L70.5 290.3 L72.1 293.1 L80.1 294.7 L95.4 294.3 L93.8 297.6 L96.2 300.8 L110.7 301.6 L118.7 299.3 L123.5 300.4 L136.4 302.4 L150.0 302.9 L136.1 302.9 L152.1 302.7 L156.9 305.6 L165.0 308.8 L184.2 311.2 L206.7 311.2 L216.4 312.8 L222.0 314.0 L236.0 316.0 L238.0 320.0 L252.0 321.4 L272.0 323.0 L282.0 327.4 L304.4 329.8 L316.0 331.0 L312.0 425.0 L36.0 425.0 Z" fill="#fabc42" stroke="#000" stroke-width="0.8" stroke-linejoin="round"/>
<path d="M36.8 279.1 L64.1 279.1 L72.1 281.5 L64.1 284.7 L56.1 287.1 L36.8 287.1 Z" fill="#000"/>
<path d="M36.8 271.9 L59.3 272.3 L76.9 274.3 L59.3 275.6 L36.8 275.6 Z" fill="#22b5ad"/>
<path d="M36.8 280.7 L56.1 281.0 L62.5 282.3 L56.1 283.6 L36.8 283.9 Z" fill="#50bd8f"/>
<path d="M36.8 276.2 L72.1 276.8 L36.8 278.4 Z" fill="#000"/>
<path d="M36.8 287.9 L56.1 287.9 L57.7 291.9 L70.5 293.1 L77.3 296.0 L76.9 298.7 L60.1 299.2 L36.8 298.0 Z" fill="#fada2c" stroke="#000" stroke-width="0.8" stroke-linejoin="round"/>
<path d="M36.8 296.0 L64.1 296.4 L72.1 297.4 L64.1 298.0 L36.8 298.0 Z" fill="#000"/>
<path d="M36.8 304.0 L56.9 304.5 L59.3 308.8 L54.5 310.9 L36.8 310.9 Z" fill="#fada2c" stroke="#000" stroke-width="0.8" stroke-linejoin="round"/>
<path d="M36.8 300.8 L56.1 301.6 L36.8 302.9 Z" fill="#000"/>
<path d="M36.8 319.2 L51.2 319.7 L52.8 321.6 L36.8 322.8 Z" fill="#fada2c" stroke="#000" stroke-width="0.8" stroke-linejoin="round"/>
<path d="M135.6 328.9 L142.8 327.3 L152.4 326.8 L155.6 328.9 L152.4 330.5 L141.2 330.5 Z" fill="#fada2c" stroke="#000" stroke-width="0.8" stroke-linejoin="round"/>
<path d="M160.1 321.2 L166.6 319.2 L176.2 318.9 L183.0 320.8 L176.2 323.3 L166.6 323.6 Z" fill="#fada2c" stroke="#000" stroke-width="0.8" stroke-linejoin="round"/>
<path d="M135.3 328.9 L140.9 326.9 L152.1 327.3 L164.2 329.2 L152.1 330.5 L139.3 330.8 Z" fill="#fada2c" stroke="#000" stroke-width="0.8" stroke-linejoin="round"/>
<path d="M116.8 335.3 L126.4 335.6 L130.0 336.9 L123.2 338.5 L116.8 338.8 Z" fill="#fada2c" stroke="#000" stroke-width="0.8" stroke-linejoin="round"/>
<path d="M138.0 313.1 L140.9 310.9 L143.6 313.1 Z" fill="#c9bc5c" stroke="#000" stroke-width="0.8" stroke-linejoin="round"/>
<path d="M64.9 319.2 L78.5 318.1 L91.4 319.2 L78.5 321.2 Z" fill="#c9bc5c" stroke="#000" stroke-width="0.8" stroke-linejoin="round"/>
<path d="M91.4 310.1 L104.2 309.3 L113.9 310.1 L104.2 311.0 Z" fill="#c9bc5c" stroke="#000" stroke-width="0.8" stroke-linejoin="round"/>
<path d="M74.5 302.5 L82.6 302.5 L82.6 303.3 L74.5 303.3 Z" fill="#000"/>
<path d="M75.3 306.7 L81.0 306.7 L81.0 307.7 L75.3 307.7 Z" fill="#000"/>
<path d="M36.0 398.0 L312.0 398.0 L312.0 445.0 L36.0 445.0 Z" fill="#fabc42"/>
<path d="M36.8 324.1 L70.5 325.2 L80.1 328.1 L100.2 330.8 L104.2 332.4 L91.4 336.1 L88.2 338.2 L67.3 340.1 L36.8 340.9 Z" fill="#c9bc5c" stroke="#000" stroke-width="0.8" stroke-linejoin="round"/>
<path d="M36.8 325.2 L67.3 326.8 L88.2 332.1 L81.8 335.3 L67.3 336.9 L36.8 338.2 Z" fill="#92bf72" stroke="#000" stroke-width="0.8" stroke-linejoin="round"/>
<path d="M36.8 326.5 L60.9 328.1 L75.3 331.8 L67.3 334.5 L36.8 336.1 Z" fill="#22b5ad" stroke="#000" stroke-width="0.8" stroke-linejoin="round"/>
<path d="M36.8 330.2 L72.1 331.1 L59.3 332.7 L36.8 332.7 Z" fill="#000"/>
<path d="M36.8 334.7 L62.5 335.3 L36.8 336.6 Z" fill="#000"/>
<path d="M36.8 349.1 L44.8 348.2 L62.5 348.8 L65.7 346.6 L64.1 342.1 L104.2 340.1 L107.4 335.8 L109.1 330.2 L117.1 329.4 L128.3 331.8 L117.1 333.7 L118.7 339.0 L120.3 342.2 L122.7 347.8 L110.7 349.1 L99.4 351.1 L113.9 351.9 L131.5 353.0 L117.1 354.6 L101.0 353.9 L80.1 353.5 L68.9 355.1 L59.3 356.7 L36.8 355.6 Z" fill="#fada2c" stroke="#000" stroke-width="0.8" stroke-linejoin="round"/>
<path d="M36.8 339.8 L72.1 339.2 L93.0 339.8 L72.1 340.8 L36.8 341.4 Z" fill="#000"/>
<path d="M36.8 355.9 L59.3 356.8 L36.8 357.5 Z" fill="#000"/>
<path d="M36.8 357.5 L64.1 358.8 L88.2 360.7 L101.0 363.1 L104.2 365.0 L99.4 367.9 L94.6 370.3 L80.1 372.3 L59.3 373.2 L36.8 372.7 Z" fill="#c9bc5c" stroke="#000" stroke-width="0.8" stroke-linejoin="round"/>
<path d="M36.8 358.8 L62.5 359.9 L86.6 362.0 L97.8 364.7 L93.0 367.9 L78.5 370.7 L36.8 371.6 Z" fill="#92bf72" stroke="#000" stroke-width="0.8" stroke-linejoin="round"/>
<path d="M36.8 359.9 L60.9 360.7 L83.4 363.1 L94.6 365.2 L88.2 367.9 L72.1 369.5 L36.8 370.7 Z" fill="#22b5ad" stroke="#000" stroke-width="0.8" stroke-linejoin="round"/>
<path d="M36.8 361.0 L56.1 361.5 L72.1 363.9 L80.1 365.5 L72.1 367.9 L36.8 369.5 Z" fill="#138ad3" stroke="#000" stroke-width="0.8" stroke-linejoin="round"/>
<path d="M36.8 362.3 L49.6 362.3 L57.7 365.5 L49.6 368.7 L36.8 369.0 Z" fill="#3550c8" stroke="#000" stroke-width="0.8" stroke-linejoin="round"/>
<path d="M36.8 363.1 L46.4 363.6 L49.6 365.8 L46.4 367.9 L36.8 368.2 Z" fill="#3c2d90" stroke="#000" stroke-width="0.8" stroke-linejoin="round"/>
<path d="M59.3 363.3 L60.9 365.5 L59.3 367.8" fill="none" stroke="#000" stroke-width="0.9" stroke-linejoin="round"/>
<path d="M62.2 363.4 L63.8 365.5 L62.2 367.6" fill="none" stroke="#000" stroke-width="0.9" stroke-linejoin="round"/>
<path d="M65.1 363.5 L66.7 365.5 L65.1 367.5" fill="none" stroke="#000" stroke-width="0.9" stroke-linejoin="round"/>
<path d="M67.9 363.6 L69.5 365.5 L67.9 367.4" fill="none" stroke="#000" stroke-width="0.9" stroke-linejoin="round"/>
<path d="M70.8 363.8 L72.4 365.5 L70.8 367.2" fill="none" stroke="#000" stroke-width="0.9" stroke-linejoin="round"/>
<path d="M73.7 363.9 L75.3 365.5 L73.7 367.1" fill="none" stroke="#000" stroke-width="0.9" stroke-linejoin="round"/>
<path d="M76.6 364.0 L78.2 365.5 L76.6 367.0" fill="none" stroke="#000" stroke-width="0.9" stroke-linejoin="round"/>
<path d="M79.5 364.2 L81.1 365.5 L79.5 366.9" fill="none" stroke="#000" stroke-width="0.9" stroke-linejoin="round"/>
<path d="M82.4 364.3 L84.0 365.5 L82.4 366.7" fill="none" stroke="#000" stroke-width="0.9" stroke-linejoin="round"/>
<path d="M85.3 364.4 L86.9 365.5 L85.3 366.6" fill="none" stroke="#000" stroke-width="0.9" stroke-linejoin="round"/>
<path d="M88.2 364.5 L89.8 365.5 L88.2 366.5" fill="none" stroke="#000" stroke-width="0.9" stroke-linejoin="round"/>
<path d="M91.1 364.7 L92.7 365.5 L91.1 366.3" fill="none" stroke="#000" stroke-width="0.9" stroke-linejoin="round"/>
<path d="M107.4 371.1 L109.9 369.5 L112.3 371.6 L109.9 373.5 Z" fill="#c9bc5c" stroke="#000" stroke-width="0.8" stroke-linejoin="round"/>
<path d="M130.7 360.7 L136.4 359.1 L139.6 356.7 L146.0 357.5 L160.1 355.6 L176.2 355.4 L177.5 357.2 L160.1 358.8 L148.9 359.4 L161.0 360.4 L152.1 362.3 L140.1 365.2 L136.9 362.6 Z" fill="#fada2c" stroke="#000" stroke-width="0.8" stroke-linejoin="round"/>
<path d="M36.8 375.1 L64.1 376.0 L78.5 376.8 L88.2 380.3 L80.1 379.2 L75.3 380.8 L56.1 381.6 L36.8 381.9 Z" fill="#fada2c" stroke="#000" stroke-width="0.8" stroke-linejoin="round"/>
<path d="M36.8 384.0 L49.6 384.5 L56.1 386.1 L51.2 388.8 L53.7 390.4 L36.8 390.4 Z" fill="#c9bc5c" stroke="#000" stroke-width="0.8" stroke-linejoin="round"/>
<path d="M36.8 391.2 L54.5 390.4 L68.9 388.8 L72.1 386.4 L93.0 387.2 L95.4 391.2 L94.6 392.8 L117.1 396.0 L110.7 400.8 L104.2 404.1 L93.0 406.5 L86.6 409.2 L102.6 411.8 L88.2 413.7 L78.5 415.3 L36.8 416.1 Z" fill="#fada2c" stroke="#000" stroke-width="0.8" stroke-linejoin="round"/>
<path d="M36.8 403.1 L72.1 403.7 L76.1 405.0 L72.1 406.3 L36.8 406.6 Z" fill="#000"/>
<path d="M36.8 396.3 L52.8 396.8 L36.8 397.6 Z" fill="#000"/>
<path d="M36.8 412.1 L67.3 412.9 L67.3 415.0 L36.8 415.8 Z" fill="#000"/>
<path d="M36.8 416.6 L78.5 415.6 L88.2 415.0 L104.2 414.0 L117.1 412.9 L129.6 413.4 L132.0 410.5 L139.3 408.6 L152.1 407.6 L166.6 406.5 L169.8 404.1 L171.4 401.2 L187.4 399.2 L200.3 397.3 L204.3 395.2 L216.4 393.6 L230.0 391.5 L232.1 392.5 L241.8 391.2 L248.2 387.7 L264.2 386.7 L283.5 385.6 L288.3 384.0 L289.9 380.8 L296.4 380.0 L304.4 379.2 L312.4 378.8 L312.0 505.0 L36.0 505.0 Z" fill="#c9bc5c" stroke="#000" stroke-width="0.8" stroke-linejoin="round"/>
<path d="M36.8 418.0 L72.1 417.4 L104.2 416.9 L120.0 416.9 L152.1 416.6 L182.6 416.1 L189.1 413.7 L203.5 410.5 L216.4 408.1 L230.0 405.7 L232.1 406.5 L245.0 406.1 L261.0 407.3 L270.7 409.7 L283.5 408.6 L304.4 407.6 L312.4 407.3 L312.0 505.0 L36.0 505.0 Z" fill="#92bf72" stroke="#000" stroke-width="0.8" stroke-linejoin="round"/>
<path d="M140.1 418.2 L143.8 418.2 L143.8 419.5 L140.1 419.5 Z" fill="#000"/>
<path d="M36.8 419.3 L72.1 418.8 L93.0 420.0 L100.0 422.8 L110.2 423.1 L130.7 422.3 L142.9 422.3 L156.2 423.1 L160.0 421.9 L170.2 422.4 L180.4 423.7 L188.6 425.7 L195.8 427.3 L206.0 428.3 L217.2 429.3 L223.4 431.3 L227.4 433.2 L230.0 433.4 L240.1 434.0 L251.4 434.5 L257.8 437.7 L261.0 442.6 L263.4 446.6 L264.2 453.0 L260.0 505.0 L36.0 505.0 Z" fill="#50bd8f" stroke="#000" stroke-width="0.8" stroke-linejoin="round"/>
<path d="M36.8 420.0 L72.1 419.6 L93.0 421.6 L100.0 424.8 L115.3 424.3 L130.7 424.3 L140.9 425.3 L156.2 427.4 L160.0 429.3 L175.3 430.3 L190.7 432.6 L199.9 433.9 L200.9 435.9 L206.0 438.3 L217.2 439.5 L230.0 439.8 L232.1 441.4 L239.3 442.6 L236.1 445.8 L237.7 453.0 L238.5 456.2 L236.0 505.0 L36.0 505.0 Z" fill="#22b5ad" stroke="#000" stroke-width="0.8" stroke-linejoin="round"/>
<path d="M36.8 420.6 L72.1 420.4 L93.0 423.2 L100.0 426.3 L110.2 426.3 L125.5 426.9 L135.8 427.9 L151.1 430.4 L160.0 432.9 L172.3 434.6 L185.5 437.0 L198.8 439.5 L209.0 441.8 L215.7 444.6 L221.3 446.7 L225.9 449.7 L226.9 455.0 L227.4 457.9 L226.0 505.0 L36.0 505.0 Z" fill="#08a3ca" stroke="#000" stroke-width="0.8" stroke-linejoin="round"/>
<path d="M36.8 421.1 L72.1 420.9 L93.0 424.5 L100.0 427.4 L110.2 427.9 L120.4 428.4 L130.7 429.4 L146.0 432.7 L160.0 435.9 L170.2 437.3 L180.4 439.3 L190.7 441.4 L193.7 442.6 L200.9 445.7 L205.0 447.7 L213.1 450.3 L217.2 451.8 L215.2 455.0 L213.1 457.9 L210.0 505.0 L36.0 505.0 Z" fill="#138ad3" stroke="#000" stroke-width="0.8" stroke-linejoin="round"/>
<path d="M36.8 421.6 L72.1 421.6 L93.0 425.7 L100.0 428.4 L110.2 429.2 L118.4 429.9 L130.7 432.0 L146.0 435.5 L160.0 439.0 L168.2 440.3 L177.4 442.1 L182.5 444.6 L185.5 447.2 L188.6 449.2 L195.8 450.3 L203.9 451.8 L206.0 452.8 L195.5 454.3 L184.2 457.0 L168.2 460.7 L152.1 462.6 L136.1 463.9 L120.0 465.0 L104.2 467.0 L88.2 467.0 L72.1 465.4 L36.8 465.4 Z" fill="#0c73dd" stroke="#000" stroke-width="0.8" stroke-linejoin="round"/>
<path d="M36.8 438.6 L68.9 438.1 L72.1 434.1 L80.1 430.9 L88.2 429.3 L100.1 429.6 L100.0 429.9 L108.2 430.4 L113.3 432.0 L125.5 434.0 L140.9 437.1 L151.1 439.6 L160.0 443.8 L166.1 444.6 L170.2 446.5 L167.7 448.2 L171.2 449.7 L179.4 451.8 L183.5 453.6 L181.0 453.8 L168.2 456.5 L152.1 459.1 L136.1 460.7 L120.0 461.8 L104.2 464.3 L88.2 464.6 L74.5 463.3 L36.8 463.8 Z" fill="#3550c8" stroke="#000" stroke-width="0.8" stroke-linejoin="round"/>
<path d="M36.8 439.7 L68.9 439.7 L73.7 437.3 L88.2 438.1 L101.0 437.3 L110.7 437.6 L107.4 439.7 L93.0 441.3 L80.1 442.9 L88.2 444.5 L104.2 446.6 L120.3 446.1 L129.9 445.3 L142.0 444.0 L138.0 447.7 L126.7 452.1 L129.9 455.8 L136.4 457.4 L142.8 457.9 L129.9 459.0 L117.1 458.2 L110.7 459.8 L88.2 461.4 L74.5 462.2 L72.1 459.0 L56.1 458.2 L36.8 458.2 Z" fill="#3c2d90" stroke="#000" stroke-width="0.8" stroke-linejoin="round"/>
<path d="M139.6 452.7 L143.6 451.8 L147.6 452.4 L144.4 453.8 Z" fill="#0c73dd" stroke="#000" stroke-width="0.8" stroke-linejoin="round"/>
<path d="M107.4 461.4 L111.5 460.4 L115.5 461.1 L111.5 462.4 Z" fill="#0c73dd" stroke="#000" stroke-width="0.8" stroke-linejoin="round"/>
<path d="M36.8 467.0 L72.1 467.5 L88.2 469.1 L104.2 469.1 L120.0 467.5 L136.1 466.6 L152.1 465.5 L174.0 463.4 L174.0 483.5 L39.7 483.5 Z" fill="#138ad3" stroke="#000" stroke-width="0.8" stroke-linejoin="round"/>
<path d="M36.8 468.6 L72.1 469.4 L88.2 471.3 L104.2 471.8 L120.0 470.7 L129.6 470.3 L141.5 469.4 L141.5 483.5 L39.7 483.5 Z" fill="#08a3ca" stroke="#000" stroke-width="0.8" stroke-linejoin="round"/>
<path d="M36.8 470.2 L64.1 471.0 L80.1 473.4 L96.2 474.2 L109.1 473.4 L142.8 471.8 L142.8 493.5 L36.8 493.5 Z" fill="#22b5ad" stroke="#000" stroke-width="0.8" stroke-linejoin="round"/>
<path d="M36.8 485.5 L59.3 484.7 L75.3 486.3 L76.9 493.5 L36.8 493.5 Z" fill="#50bd8f" stroke="#000" stroke-width="0.8" stroke-linejoin="round"/>
<path d="M88.2 477.4 L101.0 475.0 L109.1 475.8 L109.1 485.5 L96.2 484.2 L88.2 482.3 Z" fill="#50bd8f" stroke="#000" stroke-width="0.8" stroke-linejoin="round"/>
<path d="M36.8 422.5 L64.1 422.5 L80.1 425.3 L85.0 428.5 L76.9 432.5 L68.9 436.5 L36.8 437.0 Z" fill="#138ad3" stroke="#000" stroke-width="0.8" stroke-linejoin="round"/>
<path d="M36.8 423.2 L62.5 423.2 L76.1 425.7 L80.1 428.6 L72.9 432.2 L64.1 435.4 L36.8 436.0 Z" fill="#08a3ca" stroke="#000" stroke-width="0.8" stroke-linejoin="round"/>
<path d="M36.8 423.7 L59.3 423.7 L68.9 426.1 L72.1 428.9 L65.7 431.7 L56.1 434.1 L36.8 434.9 Z" fill="#22b5ad" stroke="#000" stroke-width="0.8" stroke-linejoin="round"/>
<path d="M36.8 424.8 L56.1 424.8 L62.5 426.9 L56.1 429.3 L36.8 430.6 Z" fill="#50bd8f" stroke="#000" stroke-width="0.8" stroke-linejoin="round"/>
<path d="M36.8 423.7 L47.2 424.1 L48.0 426.1 L36.8 427.7 Z" fill="#c9bc5c"/>
<path d="M36.8 426.1 L56.1 426.9 L65.7 428.9 L56.1 431.7 L36.8 432.5" fill="none" stroke="#000" stroke-width="0.8" stroke-linejoin="round"/>
<path d="M46.4 427.7 L54.5 427.3 L57.7 428.5 L52.8 430.1" fill="none" stroke="#000" stroke-width="0.8" stroke-linejoin="round"/>
<path d="M36.8 418.4 L68.9 419.0 L80.1 420.0 L68.9 421.2 L36.8 422.2 Z" fill="#000"/>
<path d="M36.8 435.7 L64.1 436.3 L72.1 437.6 L64.1 438.9 L36.8 439.5 Z" fill="#000"/>
<path d="M36.8 446.9 L64.1 447.7 L70.5 449.0 L64.1 450.1 L36.8 450.5 Z" fill="#141460"/>
<path d="M36.8 448.2 L56.1 448.7 L36.8 449.5 Z" fill="#000"/>
<path d="M36.8 453.0 L67.3 453.7 L59.3 455.8 L36.8 456.3 Z" fill="#101050"/>
<path d="M36.8 458.2 L59.3 459.0 L72.1 460.6 L59.3 461.7 L36.8 463.0 Z" fill="#000"/>
<path d="M36.8 464.6 L64.1 465.4 L80.1 468.6 L72.1 472.6 L56.1 474.2 L36.8 475.0 Z" fill="#08a3ca" stroke="#000" stroke-width="0.8" stroke-linejoin="round"/>
<path d="M36.8 465.6 L59.3 466.2 L72.1 468.8 L64.1 471.8 L56.1 473.0 L36.8 473.9 Z" fill="#22b5ad" stroke="#000" stroke-width="0.8" stroke-linejoin="round"/>
<path d="M36.8 467.0 L52.8 467.5 L60.9 469.1 L52.8 471.0 L36.8 472.3 Z" fill="#50bd8f" stroke="#000" stroke-width="0.8" stroke-linejoin="round"/>
<path d="M36.8 468.1 L49.6 468.5 L54.5 469.3 L49.6 470.1 L36.8 470.7" fill="none" stroke="#000" stroke-width="0.8" stroke-linejoin="round"/>
<path d="M36.8 476.2 L70.5 477.1 L74.5 479.1 L70.5 481.0 L36.8 481.9 Z" fill="#000"/>
<path d="M36.8 478.1 L59.3 478.6 L64.1 479.2 L59.3 480.0 L36.8 480.3 Z" fill="#138ad3"/>
<path d="M36.8 492.2 L48.0 492.5 L49.6 493.8 L36.8 494.8 Z" fill="#fabc42"/>
<path d="M36.8 483.1 L59.3 482.6 L76.1 484.2" fill="none" stroke="#000" stroke-width="0.8" stroke-linejoin="round"/>
<path d="M56.1 487.1 L65.7 489.5 L76.1 491.1" fill="none" stroke="#000" stroke-width="0.8" stroke-linejoin="round"/>
</g>
<rect x="43.6" y="27.5" width="260.8" height="472.9" fill="none" stroke="#3a3a3a" stroke-width="0.8"/>
<path d="M92.8 27.5 v5 M92.8 500.4 v-5" stroke="#3a3a3a" stroke-width="0.8"/>
<text x="92.8" y="515.6" text-anchor="middle" font-size="10.4" fill="#404040">20</text>
<path d="M157.9 27.5 v5 M157.9 500.4 v-5" stroke="#3a3a3a" stroke-width="0.8"/>
<text x="157.9" y="515.6" text-anchor="middle" font-size="10.4" fill="#404040">40</text>
<path d="M223.0 27.5 v5 M223.0 500.4 v-5" stroke="#3a3a3a" stroke-width="0.8"/>
<text x="223.0" y="515.6" text-anchor="middle" font-size="10.4" fill="#404040">60</text>
<path d="M288.1 27.5 v5 M288.1 500.4 v-5" stroke="#3a3a3a" stroke-width="0.8"/>
<text x="288.1" y="515.6" text-anchor="middle" font-size="10.4" fill="#404040">80</text>
<path d="M43.6 36.4 h5 M304.4 36.4 h-5" stroke="#3a3a3a" stroke-width="0.8"/>
<text x="37.8" y="39.7" text-anchor="end" font-size="10.8" fill="#404040">115</text>
<path d="M43.6 108.8 h5 M304.4 108.8 h-5" stroke="#3a3a3a" stroke-width="0.8"/>
<text x="37.8" y="112.0" text-anchor="end" font-size="10.8" fill="#404040">120</text>
<path d="M43.6 181.1 h5 M304.4 181.1 h-5" stroke="#3a3a3a" stroke-width="0.8"/>
<text x="37.8" y="184.4" text-anchor="end" font-size="10.8" fill="#404040">125</text>
<path d="M43.6 253.5 h5 M304.4 253.5 h-5" stroke="#3a3a3a" stroke-width="0.8"/>
<text x="37.8" y="256.8" text-anchor="end" font-size="10.8" fill="#404040">130</text>
<path d="M43.6 325.8 h5 M304.4 325.8 h-5" stroke="#3a3a3a" stroke-width="0.8"/>
<text x="37.8" y="329.1" text-anchor="end" font-size="10.8" fill="#404040">135</text>
<path d="M43.6 398.1 h5 M304.4 398.1 h-5" stroke="#3a3a3a" stroke-width="0.8"/>
<text x="37.8" y="401.4" text-anchor="end" font-size="10.8" fill="#404040">140</text>
<path d="M43.6 470.5 h5 M304.4 470.5 h-5" stroke="#3a3a3a" stroke-width="0.8"/>
<text x="37.8" y="473.8" text-anchor="end" font-size="10.8" fill="#404040">145</text>
<text x="173.6" y="529.6" text-anchor="middle" font-size="12.65" fill="#404040">Window size (# of points)</text>
<text transform="translate(11.1 264.8) rotate(-90)" text-anchor="middle" font-size="12.4" fill="#404040">Depth (m)</text>
<rect x="47.8" y="4.1" width="17.6" height="13.9" fill="#fff" stroke="#000" stroke-width="1.3"/>
<text x="56.5" y="14.3" text-anchor="middle" font-size="10" font-weight="bold" fill="#000">a</text>
<rect x="316.5" y="27.5" width="30" height="472.5" fill="url(#par)" stroke="#3a3a3a" stroke-width="0.8"/>
<text x="351.3" y="503.1" font-size="8.8" fill="#404040">0</text>
<path d="M346.5 452.8 h-4.5" stroke="#3a3a3a" stroke-width="0.8"/>
<text x="351.3" y="455.9" font-size="8.8" fill="#404040">0.1</text>
<path d="M346.5 405.5 h-4.5" stroke="#3a3a3a" stroke-width="0.8"/>
<text x="351.3" y="408.6" font-size="8.8" fill="#404040">0.2</text>
<path d="M346.5 358.2 h-4.5" stroke="#3a3a3a" stroke-width="0.8"/>
<text x="351.3" y="361.4" font-size="8.8" fill="#404040">0.3</text>
<path d="M346.5 311.0 h-4.5" stroke="#3a3a3a" stroke-width="0.8"/>
<text x="351.3" y="314.1" font-size="8.8" fill="#404040">0.4</text>
<path d="M346.5 263.8 h-4.5" stroke="#3a3a3a" stroke-width="0.8"/>
<text x="351.3" y="266.9" font-size="8.8" fill="#404040">0.5</text>
<path d="M346.5 216.5 h-4.5" stroke="#3a3a3a" stroke-width="0.8"/>
<text x="351.3" y="219.6" font-size="8.8" fill="#404040">0.6</text>
<path d="M346.5 169.2 h-4.5" stroke="#3a3a3a" stroke-width="0.8"/>
<text x="351.3" y="172.3" font-size="8.8" fill="#404040">0.7</text>
<path d="M346.5 122.0 h-4.5" stroke="#3a3a3a" stroke-width="0.8"/>
<text x="351.3" y="125.1" font-size="8.8" fill="#404040">0.8</text>
<path d="M346.5 74.8 h-4.5" stroke="#3a3a3a" stroke-width="0.8"/>
<text x="351.3" y="77.8" font-size="8.8" fill="#404040">0.9</text>
<text x="351.3" y="30.6" font-size="8.8" fill="#404040">1</text>
<text transform="translate(378 266) rotate(-90)" text-anchor="middle" font-size="8.8" fill="#404040">R<tspan dy="-3" font-size="6.5">2</tspan></text>
<path d="M454.0 5.0 V139.0 H680.4" fill="none" stroke="#000" stroke-width="1.5"/>
<path d="M454.4 16.2 h9" stroke="#000" stroke-width="1.4"/>
<text x="449" y="19.6" text-anchor="end" font-size="9.5" fill="#111">-290</text>
<path d="M454.4 42.0 h9" stroke="#000" stroke-width="1.4"/>
<text x="449" y="45.4" text-anchor="end" font-size="9.5" fill="#111">-295</text>
<path d="M454.4 67.9 h9" stroke="#000" stroke-width="1.4"/>
<text x="449" y="71.3" text-anchor="end" font-size="9.5" fill="#111">-300</text>
<path d="M454.4 93.7 h9" stroke="#000" stroke-width="1.4"/>
<text x="449" y="97.1" text-anchor="end" font-size="9.5" fill="#111">-305</text>
<path d="M454.4 119.6 h9" stroke="#000" stroke-width="1.4"/>
<text x="449" y="123.0" text-anchor="end" font-size="9.5" fill="#111">-310</text>
<path d="M479.0 139.0 v-9" stroke="#000" stroke-width="1.4"/>
<text x="479.0" y="153.6" text-anchor="middle" font-size="9.5" fill="#111">220</text>
<path d="M509.5 139.0 v-9" stroke="#000" stroke-width="1.4"/>
<text x="509.5" y="153.6" text-anchor="middle" font-size="9.5" fill="#111">225</text>
<path d="M540.2 139.0 v-9" stroke="#000" stroke-width="1.4"/>
<text x="540.2" y="153.6" text-anchor="middle" font-size="9.5" fill="#111">230</text>
<path d="M570.8 139.0 v-9" stroke="#000" stroke-width="1.4"/>
<text x="570.8" y="153.6" text-anchor="middle" font-size="9.5" fill="#111">235</text>
<path d="M601.3 139.0 v-9" stroke="#000" stroke-width="1.4"/>
<text x="601.3" y="153.6" text-anchor="middle" font-size="9.5" fill="#111">240</text>
<path d="M631.8 139.0 v-9" stroke="#000" stroke-width="1.4"/>
<text x="631.8" y="153.6" text-anchor="middle" font-size="9.5" fill="#111">245</text>
<path d="M662.3 139.0 v-9" stroke="#000" stroke-width="1.4"/>
<text x="662.3" y="153.6" text-anchor="middle" font-size="9.5" fill="#111">250</text>
<path d="M460.4 112.8 L680.4 5.4" stroke="#000" stroke-width="1.5"/>
<circle cx="523.0" cy="39.6" r="4" fill="#e60000" stroke="#4a0000" stroke-width="0.6"/>
<circle cx="487.0" cy="62.4" r="4" fill="#e60000" stroke="#4a0000" stroke-width="0.6"/>
<circle cx="515.4" cy="57.4" r="4" fill="#e60000" stroke="#4a0000" stroke-width="0.6"/>
<circle cx="539.6" cy="55.0" r="4" fill="#e60000" stroke="#4a0000" stroke-width="0.6"/>
<circle cx="543.0" cy="48.6" r="4" fill="#e60000" stroke="#4a0000" stroke-width="0.6"/>
<circle cx="514.6" cy="103.6" r="4" fill="#e60000" stroke="#4a0000" stroke-width="0.6"/>
<circle cx="512.0" cy="112.4" r="4" fill="#e60000" stroke="#4a0000" stroke-width="0.6"/>
<circle cx="522.0" cy="133.0" r="4" fill="#e60000" stroke="#4a0000" stroke-width="0.6"/>
<circle cx="551.0" cy="82.0" r="4" fill="#e60000" stroke="#4a0000" stroke-width="0.6"/>
<circle cx="460.4" cy="112.0" r="4" fill="#e60000" stroke="#4a0000" stroke-width="0.6"/>
<circle cx="680.4" cy="5.0" r="4" fill="#e60000" stroke="#4a0000" stroke-width="0.6"/>
<text transform="translate(408.3 69.0) rotate(-90)" text-anchor="middle" font-size="9.6" fill="#111">δD<tspan dy="2.2" font-size="6.8">ice</tspan><tspan dy="-2.2"> (per mil)</tspan></text>
<text x="570.5" y="174.3" text-anchor="middle" font-size="9.6" fill="#111">CO<tspan dy="2.2" font-size="6.8">2</tspan><tspan dy="-2.2"> (ppm)</tspan></text>
<rect x="465.5" y="4.0" width="21.2" height="17.0" fill="#fff" stroke="#000" stroke-width="1.3"/>
<text x="476.0" y="15.8" text-anchor="middle" font-size="10" font-weight="bold" fill="#000">b</text>
<path d="M454.0 191.4 V325.4 H680.4" fill="none" stroke="#000" stroke-width="1.5"/>
<path d="M454.4 202.4 h9" stroke="#000" stroke-width="1.4"/>
<text x="449" y="205.8" text-anchor="end" font-size="9.5" fill="#111">-290</text>
<path d="M454.4 228.2 h9" stroke="#000" stroke-width="1.4"/>
<text x="449" y="231.6" text-anchor="end" font-size="9.5" fill="#111">-295</text>
<path d="M454.4 254.0 h9" stroke="#000" stroke-width="1.4"/>
<text x="449" y="257.4" text-anchor="end" font-size="9.5" fill="#111">-300</text>
<path d="M454.4 279.8 h9" stroke="#000" stroke-width="1.4"/>
<text x="449" y="283.2" text-anchor="end" font-size="9.5" fill="#111">-305</text>
<path d="M454.4 305.6 h9" stroke="#000" stroke-width="1.4"/>
<text x="449" y="309.0" text-anchor="end" font-size="9.5" fill="#111">-310</text>
<path d="M473.0 325.4 v-9" stroke="#000" stroke-width="1.4"/>
<text x="473.0" y="339.8" text-anchor="middle" font-size="9.5" fill="#111">460</text>
<path d="M511.6 325.4 v-9" stroke="#000" stroke-width="1.4"/>
<text x="511.6" y="339.8" text-anchor="middle" font-size="9.5" fill="#111">470</text>
<path d="M550.3 325.4 v-9" stroke="#000" stroke-width="1.4"/>
<text x="550.3" y="339.8" text-anchor="middle" font-size="9.5" fill="#111">480</text>
<path d="M588.7 325.4 v-9" stroke="#000" stroke-width="1.4"/>
<text x="588.7" y="339.8" text-anchor="middle" font-size="9.5" fill="#111">490</text>
<path d="M627.3 325.4 v-9" stroke="#000" stroke-width="1.4"/>
<text x="627.3" y="339.8" text-anchor="middle" font-size="9.5" fill="#111">500</text>
<path d="M665.7 325.4 v-9" stroke="#000" stroke-width="1.4"/>
<text x="665.7" y="339.8" text-anchor="middle" font-size="9.5" fill="#111">510</text>
<path d="M460.4 298.4 L649.0 191.0" stroke="#000" stroke-width="1.5"/>
<circle cx="649.0" cy="191.0" r="4" fill="#0000dc" stroke="#00003c" stroke-width="0.6"/>
<circle cx="628.6" cy="226.0" r="4" fill="#0000dc" stroke="#00003c" stroke-width="0.6"/>
<circle cx="609.6" cy="234.6" r="4" fill="#0000dc" stroke="#00003c" stroke-width="0.6"/>
<circle cx="585.0" cy="243.4" r="4" fill="#0000dc" stroke="#00003c" stroke-width="0.6"/>
<circle cx="579.6" cy="249.0" r="4" fill="#0000dc" stroke="#00003c" stroke-width="0.6"/>
<circle cx="668.6" cy="241.6" r="4" fill="#0000dc" stroke="#00003c" stroke-width="0.6"/>
<circle cx="636.6" cy="289.7" r="4" fill="#0000dc" stroke="#00003c" stroke-width="0.6"/>
<circle cx="669.0" cy="298.6" r="4" fill="#0000dc" stroke="#00003c" stroke-width="0.6"/>
<circle cx="680.4" cy="319.4" r="4" fill="#0000dc" stroke="#00003c" stroke-width="0.6"/>
<circle cx="512.8" cy="268.5" r="4" fill="#0000dc" stroke="#00003c" stroke-width="0.6"/>
<circle cx="460.4" cy="298.4" r="4" fill="#0000dc" stroke="#00003c" stroke-width="0.6"/>
<text transform="translate(408.3 255.0) rotate(-90)" text-anchor="middle" font-size="9.6" fill="#111">δD<tspan dy="2.2" font-size="6.8">ice</tspan><tspan dy="-2.2"> (per mil)</tspan></text>
<text x="570.5" y="361.3" text-anchor="middle" font-size="9.6" fill="#111">CH<tspan dy="2.2" font-size="6.8">4</tspan><tspan dy="-2.2"> (ppb)</tspan></text>
<rect x="465.5" y="189.0" width="21.2" height="17.4" fill="#fff" stroke="#000" stroke-width="1.3"/>
<text x="476.0" y="201.0" text-anchor="middle" font-size="10" font-weight="bold" fill="#000">c</text>
<path d="M454.0 376.0 V510.0 H680.4" fill="none" stroke="#000" stroke-width="1.5"/>
<path d="M454.4 386.4 h9" stroke="#000" stroke-width="1.4"/>
<text x="449" y="389.8" text-anchor="end" font-size="9.5" fill="#111">250</text>
<path d="M454.4 404.2 h9" stroke="#000" stroke-width="1.4"/>
<text x="449" y="407.6" text-anchor="end" font-size="9.5" fill="#111">245</text>
<path d="M454.4 422.0 h9" stroke="#000" stroke-width="1.4"/>
<text x="449" y="425.4" text-anchor="end" font-size="9.5" fill="#111">240</text>
<path d="M454.4 439.9 h9" stroke="#000" stroke-width="1.4"/>
<text x="449" y="443.3" text-anchor="end" font-size="9.5" fill="#111">235</text>
<path d="M454.4 457.7 h9" stroke="#000" stroke-width="1.4"/>
<text x="449" y="461.1" text-anchor="end" font-size="9.5" fill="#111">230</text>
<path d="M454.4 475.5 h9" stroke="#000" stroke-width="1.4"/>
<text x="449" y="478.9" text-anchor="end" font-size="9.5" fill="#111">225</text>
<path d="M454.4 493.3 h9" stroke="#000" stroke-width="1.4"/>
<text x="449" y="496.7" text-anchor="end" font-size="9.5" fill="#111">220</text>
<path d="M473.0 510.0 v-9" stroke="#000" stroke-width="1.4"/>
<text x="473.0" y="524.5" text-anchor="middle" font-size="9.5" fill="#111">460</text>
<path d="M511.6 510.0 v-9" stroke="#000" stroke-width="1.4"/>
<text x="511.6" y="524.5" text-anchor="middle" font-size="9.5" fill="#111">470</text>
<path d="M550.3 510.0 v-9" stroke="#000" stroke-width="1.4"/>
<text x="550.3" y="524.5" text-anchor="middle" font-size="9.5" fill="#111">480</text>
<path d="M588.7 510.0 v-9" stroke="#000" stroke-width="1.4"/>
<text x="588.7" y="524.5" text-anchor="middle" font-size="9.5" fill="#111">490</text>
<path d="M627.3 510.0 v-9" stroke="#000" stroke-width="1.4"/>
<text x="627.3" y="524.5" text-anchor="middle" font-size="9.5" fill="#111">500</text>
<path d="M665.7 510.0 v-9" stroke="#000" stroke-width="1.4"/>
<text x="665.7" y="524.5" text-anchor="middle" font-size="9.5" fill="#111">510</text>
<path d="M460.4 504.0 L649.0 376.0" stroke="#000" stroke-width="1.5"/>
<circle cx="649.0" cy="376.0" r="4" fill="#f5a30f" stroke="#2a1a00" stroke-width="0.6"/>
<circle cx="609.4" cy="456.0" r="4" fill="#f5a30f" stroke="#2a1a00" stroke-width="0.6"/>
<circle cx="585.0" cy="472.0" r="4" fill="#f5a30f" stroke="#2a1a00" stroke-width="0.6"/>
<circle cx="579.6" cy="488.0" r="4" fill="#f5a30f" stroke="#2a1a00" stroke-width="0.6"/>
<circle cx="628.4" cy="467.4" r="4" fill="#f5a30f" stroke="#2a1a00" stroke-width="0.6"/>
<circle cx="636.6" cy="472.0" r="4" fill="#f5a30f" stroke="#2a1a00" stroke-width="0.6"/>
<circle cx="668.6" cy="458.0" r="4" fill="#f5a30f" stroke="#2a1a00" stroke-width="0.6"/>
<circle cx="669.0" cy="473.6" r="4" fill="#f5a30f" stroke="#2a1a00" stroke-width="0.6"/>
<circle cx="680.4" cy="468.0" r="4" fill="#f5a30f" stroke="#2a1a00" stroke-width="0.6"/>
<circle cx="513.0" cy="451.6" r="4" fill="#f5a30f" stroke="#2a1a00" stroke-width="0.6"/>
<circle cx="460.4" cy="504.0" r="4" fill="#f5a30f" stroke="#2a1a00" stroke-width="0.6"/>
<text transform="translate(408.3 439.5) rotate(-90)" text-anchor="middle" font-size="9.6" fill="#111">CO<tspan dy="2.2" font-size="6.8">2</tspan><tspan dy="-2.2"> (ppm)</tspan></text>
<text x="570.5" y="545.8" text-anchor="middle" font-size="9.6" fill="#111">CH<tspan dy="2.2" font-size="6.8">4</tspan><tspan dy="-2.2"> (ppb)</tspan></text>
<rect x="465.5" y="373.6" width="21.2" height="17.6" fill="#fff" stroke="#000" stroke-width="1.3"/>
<text x="476.0" y="385.7" text-anchor="middle" font-size="10" font-weight="bold" fill="#000">d</text>
</svg></body></html>
